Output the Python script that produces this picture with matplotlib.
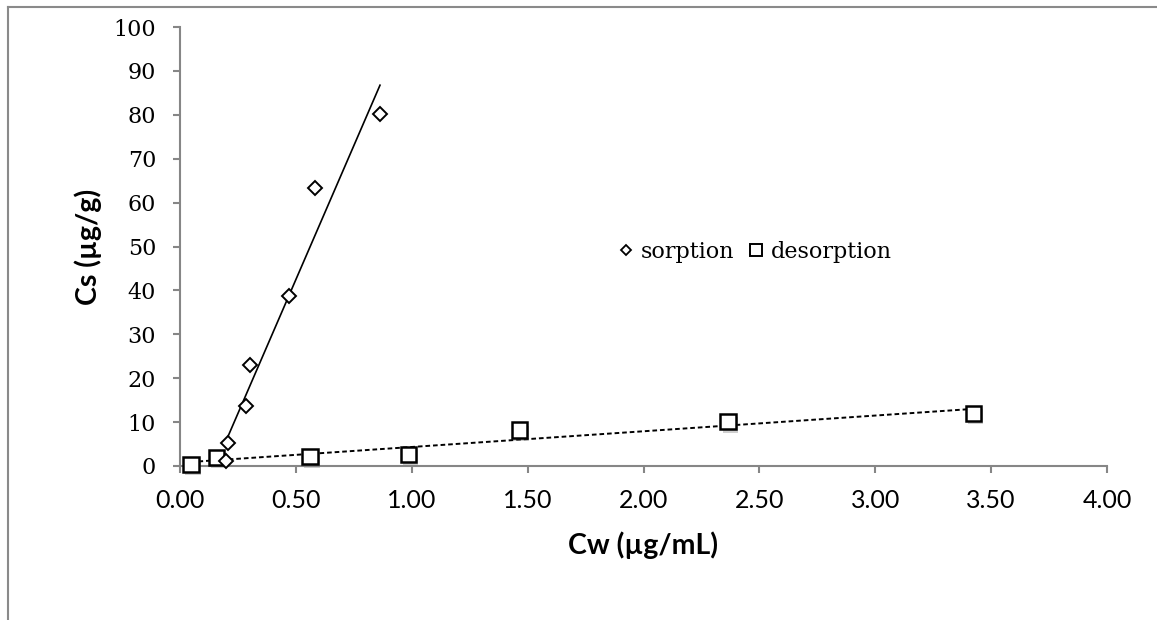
import numpy as np
import matplotlib
matplotlib.use("Agg")
import matplotlib.pyplot as plt
from matplotlib.lines import Line2D
import matplotlib.patheffects as pe

# ---- data ----
sorption_cw = [0.197, 0.209, 0.285, 0.303, 0.470, 0.583, 0.863]
sorption_cs = [1.2, 5.2, 13.7, 22.9, 38.8, 63.3, 80.2]
desorption_cw = [0.047, 0.158, 0.561, 0.985, 1.465, 2.365, 3.425]
desorption_cs = [0.4, 2.0, 2.1, 2.7, 8.2, 10.1, 12.0]
x_ticks = [0.0, 0.5, 1.0, 1.5, 2.0, 2.5, 3.0, 3.5, 4.0]
y_ticks = [0, 10, 20, 30, 40, 50, 60, 70, 80, 90, 100]
series_labels = ["sorption", "desorption"]
x_label = "Cw (µg/mL)"
y_label = "Cs (µg/g)"

W, H = 1157, 620
fig = plt.figure(figsize=(W / 100, H / 100), dpi=100)
ax = fig.add_axes([180 / W, 1 - 466 / H, (1107 - 180) / W, (466 - 27) / H])

AXC = "#868686"

# trendlines (linear least squares over each series' range)
for xs, ys, ls, lw in [(sorption_cw, sorption_cs, "-", 1.2),
                       (desorption_cw, desorption_cs, (0, (2.4, 1.5)), 1.4)]:
    xs = np.asarray(xs); ys = np.asarray(ys)
    m, b = np.polyfit(xs, ys, 1)
    xx = np.array([xs.min(), xs.max()])
    ax.plot(xx, m * xx + b, color="black", lw=lw, linestyle=ls, zorder=2)

shadow = [pe.SimplePatchShadow(offset=(1.5, -2.5), shadow_rgbFace="#888888", alpha=0.4), pe.Normal()]

ax.plot(desorption_cw, desorption_cs, linestyle="none", marker="s", markersize=11,
        markerfacecolor="white", markeredgecolor="black", markeredgewidth=1.8,
        zorder=3, clip_on=False, path_effects=shadow)
ax.plot(sorption_cw, sorption_cs, linestyle="none", marker="D", markersize=6.8,
        markerfacecolor="white", markeredgecolor="black", markeredgewidth=1.4,
        zorder=4, clip_on=False)

ax.set_xlim(0, 4)
ax.set_ylim(0, 100)
ax.set_xticks(x_ticks)
ax.set_xticklabels([f"{v:.2f}" for v in x_ticks], fontfamily="Lato", fontsize=18)
ax.set_yticks(y_ticks)
ax.set_yticklabels([str(v) for v in y_ticks], fontfamily="DejaVu Serif", fontsize=16)

for s in ["top", "right"]:
    ax.spines[s].set_visible(False)
for s in ["left", "bottom"]:
    ax.spines[s].set_color(AXC)
    ax.spines[s].set_linewidth(1.5)
ax.tick_params(axis="both", direction="out", color=AXC, width=1.5, length=5.2, pad=12)
ax.tick_params(axis="x", pad=11)

fig.text(643.5 / W, 1 - 554 / H, x_label, ha="center", va="baseline",
         fontfamily="Lato", fontweight="bold", fontsize=20.5)
fig.text(88 / W, 1 - 246.5 / H, y_label, ha="center", va="center", rotation=90,
         fontfamily="Lato", fontweight="bold", fontsize=20.5)

handles = [Line2D([], [], linestyle="none", marker="D", markersize=5.4,
                  markerfacecolor="white", markeredgecolor="black", markeredgewidth=1.3),
           Line2D([], [], linestyle="none", marker="s", markersize=8.2,
                  markerfacecolor="white", markeredgecolor="black", markeredgewidth=1.4)]
ax.legend(handles, series_labels, ncol=2, frameon=False, loc="center left",
          bbox_to_anchor=(617 / W, 1 - 252 / H), bbox_transform=fig.transFigure,
          borderpad=0, borderaxespad=0, handlelength=0.8, handletextpad=0.25,
          columnspacing=0.6, prop={"family": "DejaVu Serif", "size": 16})

# outer chart border (partially visible)
fig.add_artist(Line2D([8 / W, 1.0], [1 - 7 / H, 1 - 7 / H], transform=fig.transFigure,
                      color="#8a8a8a", lw=1.5))
fig.add_artist(Line2D([8 / W, 8 / W], [1 - 7 / H, 0.0], transform=fig.transFigure,
                      color="#8a8a8a", lw=1.5))

fig.savefig("out.png", dpi=100)
